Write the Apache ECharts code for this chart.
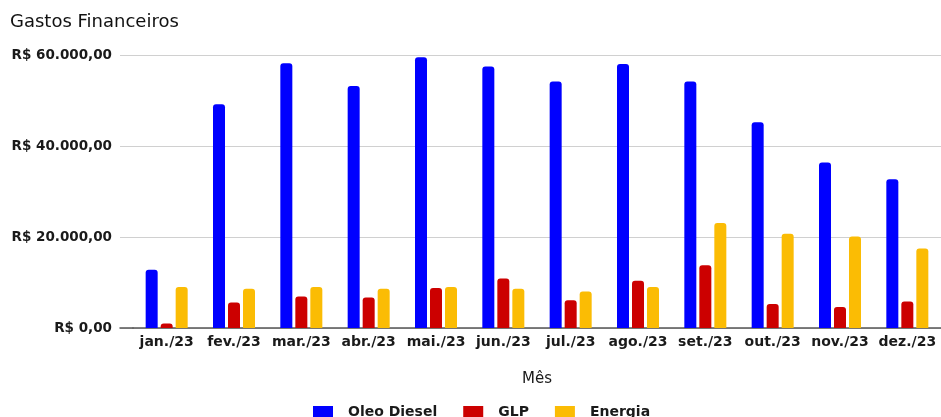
<!DOCTYPE html>
<html><head><meta charset="utf-8">
<script src="https://cdn.jsdelivr.net/npm/echarts@6/dist/echarts.min.js"></script>
<style>html,body{margin:0;padding:0;background:#fff}#c{width:941px;height:417px}</style>
</head><body><div id="c"></div>
<script>
const categories = ['jan./23','fev./23','mar./23','abr./23','mai./23','jun./23','jul./23','ago./23','set./23','out./23','nov./23','dez./23'];
const oleoDiesel = [12800, 49200, 58200, 53200, 59500, 57500, 54200, 58000, 54200, 45200, 36400, 32700];
const glp = [1000, 5600, 6900, 6700, 8800, 10900, 6100, 10400, 13800, 5300, 4600, 5800];
const energia = [9000, 8600, 9000, 8600, 9000, 8600, 8000, 9000, 23100, 20700, 20100, 17500];
const yTicks = [0, 20000, 40000, 60000];

function brl(v){
  const s = Math.round(v).toString().replace(/\B(?=(\d{3})+(?!\d))/g, '.');
  return 'R$ ' + s + ',00';
}
const font = '"DejaVu Sans", Verdana, sans-serif';
const chart = echarts.init(document.getElementById('c'));
const bar = (name, data, color) => ({
  name, type: 'bar', data, barWidth: 12, barGap: '25%',
  xAxisIndex: 0, yAxisIndex: 0,
  itemStyle: { color, borderRadius: [3,3,0,0] }
});
chart.setOption({
  animation: false,
  title: { text: 'Gastos Financeiros', left: 5, top: 8,
    textStyle: { fontFamily: font, fontSize: 18, fontWeight: 'normal', color: '#111' } },
  grid: [
    { left: 133, right: -2, top: 55, bottom: 89, containLabel: false },
    { left: 120, width: 13, top: 55, bottom: 89, containLabel: false }
  ],
  legend: {
    top: 400, left: 308, itemWidth: 20, itemHeight: 12, itemGap: 26,
    icon: 'rect',
    textStyle: { fontFamily: font, fontSize: 14, fontWeight: 'bold', color: '#1a1a1a', padding: [0,0,0,10] },
    data: ['Oleo Diesel', 'GLP', 'Energia']
  },
  xAxis: [
    { type: 'category', data: categories, gridIndex: 0,
      axisTick: { show: false },
      axisLine: { lineStyle: { color: '#555', width: 1.5 } },
      axisLabel: { interval: 0, fontFamily: font, fontSize: 14, fontWeight: 'bold', color: '#1a1a1a', margin: 7 },
      name: 'Mês', nameLocation: 'middle', nameGap: 44,
      nameTextStyle: { fontFamily: font, fontSize: 15, color: '#1a1a1a' } },
    { type: 'category', data: [''], gridIndex: 1,
      axisTick: { show: false }, axisLabel: { show: false },
      axisLine: { lineStyle: { color: '#555', width: 1.5 } } }
  ],
  yAxis: [
    { type: 'value', gridIndex: 0, min: yTicks[0], max: yTicks[yTicks.length-1], interval: 20000,
      axisLine: { show: false }, axisTick: { show: false },
      splitLine: { lineStyle: { color: '#d0d0d0', width: 1 } },
      axisLabel: { fontFamily: font, fontSize: 13.5, fontWeight: 'bold', color: '#1a1a1a', margin: 21, formatter: brl } },
    { type: 'value', gridIndex: 1, min: yTicks[0], max: yTicks[yTicks.length-1], interval: 20000,
      axisLine: { show: false }, axisTick: { show: false }, axisLabel: { show: false },
      splitLine: { lineStyle: { color: '#d0d0d0', width: 1 } } }
  ],
  series: [
    bar('Oleo Diesel', oleoDiesel, '#0000ff'),
    bar('GLP', glp, '#cc0000'),
    bar('Energia', energia, '#fbbc04')
  ]
});
</script></body></html>
